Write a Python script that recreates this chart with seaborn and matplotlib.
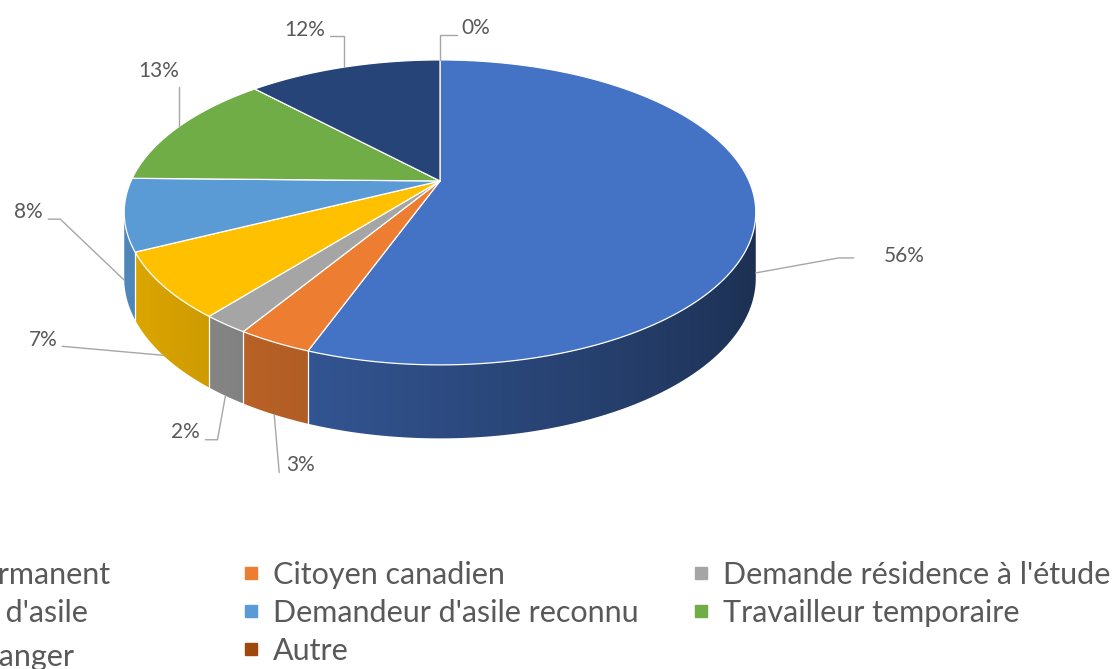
import numpy as np
import matplotlib
matplotlib.use("Agg")
import matplotlib.pyplot as plt
import seaborn as sns
from matplotlib.patches import Polygon
from matplotlib.lines import Line2D

# ---- data ----
categories = ["Résident permanent", "Citoyen canadien", "Demande résidence à l'étude",
              "Demandeur d'asile", "Demandeur d'asile reconnu", "Travailleur temporaire",
              "Étudiant étranger", "Autre"]
shares = [55.6, 3.2, 2.0, 6.9, 7.6, 12.6, 12.1, 0.0]
hex_colors = ["#4472C4", "#ED7D31", "#A5A5A5", "#FFC000",
              "#5B9BD5", "#70AD47", "#264478", "#9E480E"]

# label placement: leader path and text offset relative to the slice anchor
label_paths = [[(0, 0), (83, -15), (98, -15)],
               [(0, 0), (5, 58)],
               [(0, 0), (-8, 44), (-20, 44)],
               [(0, 0), (-101, -9)],
               [(0, 0), (-64, -61), (-76, -61)],
               [(0, 0), (0, -40)],
               [(0, 0), (0, -31), (-14, -31)],
               [(0, 0), (0, -25), (17, -25)]]
label_text = [(128, -17, "left"), (12, 50, "left"), (-26, 36, "right"), (-106, -15, "right"),
              (-82, -68, "right"), (-20, -56, "center"), (-19, -37, "right"), (21, -32, "left")]
on_wall = [True, True, True, True, True, False, False, False]

sns.set_theme(style="white")
plt.rcParams["font.family"] = ["Lato", "DejaVu Sans"]
palette = sns.color_palette(hex_colors)

W, H = 1120, 669
fig = plt.figure(figsize=(W / 100, H / 100), dpi=100)
ax = fig.add_axes([0, 0, 1, 1])
ax.set_xlim(0, W)
ax.set_ylim(H, 0)
ax.axis("off")

# pseudo 3D projection of the pie disc
cx, cy, a, b, p, depth = 440, 181, 309, 146, 0.206, 64


def rim(theta):
    t = np.radians(theta)
    X, Y = np.sin(t), np.cos(t)
    s = 1 / (1 + p * Y)
    return cx + a * X * s, cy - b * Y * s, depth * s ** 0.6


def shade(color, theta):
    f = 0.88 - 0.24 * (1 - np.cos(np.radians(theta - 265)))
    return np.clip(np.array(color) * f, 0, 1)


vals = np.array(shares)
cum = np.concatenate([[0], np.cumsum(vals)]) / vals.sum() * 360

grid = np.linspace(0, 360, 3601)
gx = rim(grid)[0]
th_r = grid[:1800][np.argmax(gx[:1800])]
th_l = grid[1800:][np.argmin(gx[1800:])]

# front side wall: one outline, filled with a per-column shaded gradient
front = np.linspace(th_r, th_l, 600)
fx, fy, fd = rim(front)
wall_pts = np.column_stack([np.r_[fx, fx[::-1]], np.r_[fy, (fy + fd)[::-1]]])
wall = Polygon(wall_pts, closed=True, facecolor="none", edgecolor="none")
ax.add_patch(wall)

cols = np.arange(np.floor(fx.min()), np.ceil(fx.max()) + 1)
col_theta = np.interp(cols, fx[::-1], front[::-1])
col_slice = np.clip(np.searchsorted(cum, col_theta, side="right") - 1, 0, len(vals) - 1)
grad = np.array([[shade(palette[k], t) for k, t in zip(col_slice, col_theta)]])
img = ax.imshow(grad, extent=(cols[0] - 0.5, cols[-1] + 0.5, fy.max() + fd.max() + 2, fy.min() - 2),
                aspect="auto", interpolation="nearest", zorder=1)
img.set_clip_path(wall)

for t in cum:
    if th_r < t < th_l:
        x, y, d = rim(np.array([t]))
        ax.plot([x[0], x[0]], [y[0], y[0] + d[0]], color="white", lw=0.9, zorder=2)

# top faces
for i, c in enumerate(palette):
    if vals[i] <= 0:
        continue
    tt = np.linspace(cum[i], cum[i + 1], max(3, int((cum[i + 1] - cum[i]) * 2)))
    x, y, _ = rim(tt)
    pts = np.column_stack([np.r_[cx, x], np.r_[cy, y]])
    ax.add_patch(Polygon(pts, closed=True, facecolor=c, edgecolor="white", lw=0.9,
                         joinstyle="round", zorder=3))

# data labels with leader lines
for i, v in enumerate(vals):
    mid = (cum[i] + cum[i + 1]) / 2
    x, y, d = rim(np.array([mid]))
    ax0, ay0 = x[0], y[0] + (d[0] if on_wall[i] else 0)
    path = np.array(label_paths[i], dtype=float)
    ax.plot(ax0 + path[:, 0], ay0 + path[:, 1], color="#A6A6A6", lw=1.0, zorder=4)
    dx, dy, ha = label_text[i]
    ax.text(ax0 + dx, ay0 + dy, f"{int(round(v))}%", ha=ha, va="center",
            fontsize=15, color="#595959", zorder=5)

# legend: three columns, first one runs off the left edge like the source
col_x = [-191, 242, 692]
for k, x0 in enumerate(col_x):
    idx = list(range(k, len(categories), 3))
    handles = [Line2D([0], [0], marker="s", linestyle="", markersize=9,
                      markerfacecolor=palette[j], markeredgecolor=palette[j]) for j in idx]
    fig.legend(handles, [categories[j] for j in idx], loc="upper left",
               bbox_to_anchor=(x0, 561), bbox_transform=ax.transData,
               frameon=False, fontsize=22, labelcolor="#595959",
               handlelength=0.6, handletextpad=0.4, labelspacing=0.32,
               borderpad=0, borderaxespad=0)

fig.savefig("out.png", dpi=100)
